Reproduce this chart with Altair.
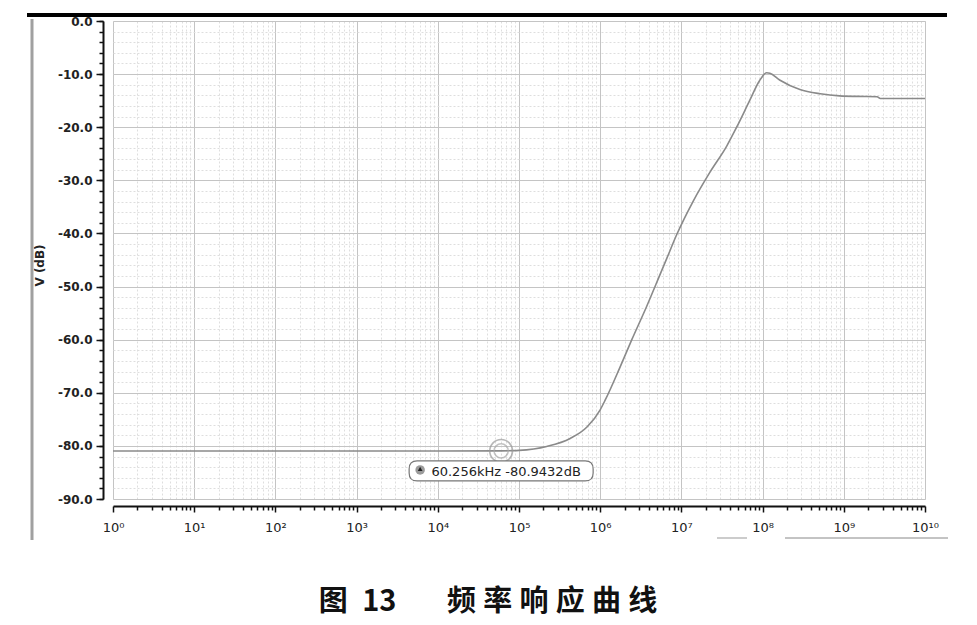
import altair as alt
import pandas as pd

# ---- data ----
freq = [1.0, 1.0e1, 1.0e2, 1.0e3, 1.0e4, 6.0256e4, 8.51e4, 1.0e5, 2.19e5, 4.27e5,
        6.92e5, 1.0e6, 1.15e6, 1.74e6, 2.45e6, 3.72e6, 5.37e6, 6.61e6, 8.71e6,
        1.41e7, 2.24e7, 3.63e7, 4.79e7, 6.92e7, 9.12e7, 1.12e8, 1.23e8, 1.62e8,
        2.88e8, 5.13e8, 8.91e8, 1.45e9, 2.57e9, 2.82e9, 1.0e10]
vdb = [-80.95, -80.95, -80.95, -80.95, -80.95, -80.94, -80.9, -80.85, -80.1, -78.6,
       -76.4, -73.2, -71.4, -65.3, -60.0, -53.8, -48.0, -44.7, -40.3,
       -33.8, -28.5, -23.5, -20.0, -15.0, -11.3, -9.75, -9.85, -11.1,
       -12.9, -13.7, -14.1, -14.2, -14.25, -14.6, -14.6]

major_x = [1e0, 1e1, 1e2, 1e3, 1e4, 1e5, 1e6, 1e7, 1e8, 1e9, 1e10]
x_labels = ["10⁰", "10¹", "10²", "10³", "10⁴", "10⁵", "10⁶", "10⁷", "10⁸", "10⁹", "10¹⁰"]
minor_x = [k * 10.0 ** n for n in range(10) for k in range(2, 10)]
major_y = [0, -10, -20, -30, -40, -50, -60, -70, -80, -90]
minor_y = [-2 * i for i in range(46)]

marker_f = [60256.0]
marker_v = [-80.9432]
marker_text = ["60.256kHz -80.9432dB"]
y_title = "V (dB)"
caption = "图\u2005\u200513\u3000\u2002\u2005频\u2005率\u2005响\u2005应\u2005曲\u2005线"

df = pd.DataFrame({"f": freq, "v": vdb})
mk = pd.DataFrame({"f": marker_f, "v": marker_v, "t": marker_text})
one = pd.DataFrame({"a": [0]})

W, H = 812, 478
xscale = alt.Scale(type="log", domain=[1, 1e10], nice=False)
yscale = alt.Scale(domain=[-90, 0], nice=False, zero=False)
FONT = "DejaVu Sans"

label_arr = "[" + ",".join("'" + s + "'" for s in x_labels) + "]"

minor = alt.Chart(df).mark_line(opacity=0).encode(
    x=alt.X("f:Q", scale=xscale, axis=alt.Axis(
        values=minor_x, orient="bottom", offset=7, grid=True, gridColor="#dedede",
        gridDash=[2, 2], gridWidth=1, labels=False, domain=False, ticks=True,
        tickSize=4, tickColor="#111", tickWidth=1.5, title=None)),
    y=alt.Y("v:Q", scale=yscale, axis=alt.Axis(
        values=minor_y, orient="left", offset=10, grid=True, gridColor="#dedede",
        gridDash=[2, 2], gridWidth=1, labels=False, domain=False, ticks=True,
        tickSize=4, tickColor="#111", tickWidth=1.5, title=None)),
)

major = alt.Chart(df).mark_line(color="#8a8a8a", strokeWidth=1.6,
                                interpolate="monotone").encode(
    x=alt.X("f:Q", scale=xscale, axis=alt.Axis(
        values=major_x, orient="bottom", offset=7, grid=True, gridColor="#c4c4c4",
        gridWidth=1, labelExpr=label_arr + "[round(log(datum.value)/LN10)]",
        labelFont=FONT, labelFontSize=13, labelColor="#222", labelPadding=9,
        domain=True, domainColor="#111", domainWidth=2, ticks=True, tickSize=6,
        tickColor="#111", tickWidth=1.5, title=None, labelFlush=False)),
    y=alt.Y("v:Q", scale=yscale, axis=alt.Axis(
        values=major_y, orient="left", offset=10, grid=True, gridColor="#c4c4c4",
        gridWidth=1,
        labelExpr="datum.value == 0 ? '0.0' : '-' + format(abs(datum.value), '.1f')",
        labelFont=FONT, labelFontSize=12, labelColor="#222", labelPadding=4,
        labelFontWeight="bold",
        domain=True, domainColor="#111", domainWidth=2, ticks=True, tickSize=7,
        tickColor="#111", tickWidth=1.5, title=y_title, titleFont=FONT,
        titleFontSize=12, titleFontWeight="bold", titleColor="#222",
        titleX=-57, titleY=244, titleAngle=-90)),
)

ring_outer = alt.Chart(mk).mark_point(shape="circle", size=520, filled=False,
                                      color="#999", strokeWidth=1.6).encode(
    x=alt.X("f:Q", scale=xscale, axis=None), y=alt.Y("v:Q", scale=yscale, axis=None))
ring_inner = alt.Chart(mk).mark_point(shape="circle", size=200, filled=False,
                                      color="#aaa", strokeWidth=1.5).encode(
    x=alt.X("f:Q", scale=xscale, axis=None), y=alt.Y("v:Q", scale=yscale, axis=None))

box_path = ("M-0.913,-0.1087 L0.913,-0.1087 Q1,-0.1087 1,-0.0217 L1,0.0217 "
            "Q1,0.1087 0.913,0.1087 L-0.913,0.1087 Q-1,0.1087 -1,0.0217 "
            "L-1,-0.0217 Q-1,-0.1087 -0.913,-0.1087 Z")
box = alt.Chart(mk).mark_point(shape=box_path, size=184 * 184, filled=True,
                               fill="white", stroke="#777", strokeWidth=1.2,
                               opacity=1, yOffset=20).encode(
    x=alt.X("f:Q", scale=xscale, axis=None), y=alt.Y("v:Q", scale=yscale, axis=None))
icon = alt.Chart(mk).mark_point(shape="circle", size=90, filled=True, color="#9a9a9a",
                                opacity=1, xOffset=-81, yOffset=19).encode(
    x=alt.X("f:Q", scale=xscale, axis=None), y=alt.Y("v:Q", scale=yscale, axis=None))
icon_tri = alt.Chart(mk).mark_point(shape="triangle-up", size=22, filled=True,
                                    color="#222", opacity=1, xOffset=-81,
                                    yOffset=18).encode(
    x=alt.X("f:Q", scale=xscale, axis=None), y=alt.Y("v:Q", scale=yscale, axis=None))
txt = alt.Chart(mk).mark_text(font=FONT, fontSize=13, color="#222", dx=5, dy=21,
                              align="center", baseline="middle").encode(
    x=alt.X("f:Q", scale=xscale, axis=None), y=alt.Y("v:Q", scale=yscale, axis=None),
    text="t:N")

top_bar = alt.Chart(one).mark_rule(color="black", strokeWidth=4).encode(
    x=alt.value(-86), x2=alt.value(834), y=alt.value(-6))
left_bar = alt.Chart(one).mark_rule(color="#a0a0a0", strokeWidth=3).encode(
    x=alt.value(-81), y=alt.value(-2), y2=alt.value(519))
bot_line1 = alt.Chart(one).mark_rule(color="#888", strokeWidth=1).encode(
    x=alt.value(672), x2=alt.value(835), y=alt.value(517))
bot_line2 = alt.Chart(one).mark_rule(color="#999", strokeWidth=1).encode(
    x=alt.value(604), x2=alt.value(634), y=alt.value(517))

chart = alt.layer(
    minor, major, ring_outer, ring_inner, box, icon, icon_tri, txt,
    top_bar, left_bar, bot_line1, bot_line2
).resolve_axis(x="independent", y="independent").properties(
    width=W, height=H,
    autosize=alt.AutoSizeParams(type="none"),
    padding={"left": 105, "top": 13, "right": 40, "bottom": 118},
    title=alt.TitleParams(text=caption, orient="bottom", anchor="middle",
                          font="Noto Sans CJK SC", fontSize=29, fontWeight="bold",
                          color="#111", dx=-31, offset=46),
).configure_view(stroke=None).configure(background="white")

chart.save("out.html", embed_options={"renderer": "svg", "actions": False})
